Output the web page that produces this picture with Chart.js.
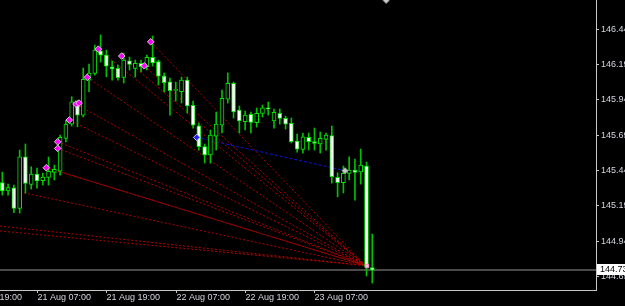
<!DOCTYPE html>
<html><head><meta charset="utf-8">
<script src="https://cdn.jsdelivr.net/npm/chart.js@4.4.0/dist/chart.umd.min.js"></script>
<style>html,body{margin:0;padding:0;background:#000;overflow:hidden}#wrap{width:625px;height:306px;position:relative}canvas{background:#000}</style>
</head><body><div id="wrap"><canvas id="c" width="625" height="306"></canvas></div>
<script>
// Bar times: hours relative to 21 Aug 07:00 (H1 candles)
const barHours = [-6,-5,-4,-3,-2,-1,0,1,2,3,4,5,6,7,8,9,10,11,12,13,14,15,16,17,18,19,20,21,22,23,24,25,26,27,28,29,30,31,32,33,34,35,36,37,38,39,40,41,42,43,44,45,46,47,48,49,50,51,52,53,54,55,56,57,58];
const opens  = [145.355,145.295,145.318,145.172,145.538,145.341,145.415,145.368,145.392,145.427,145.436,145.668,145.769,145.927,145.833,146.081,146.128,146.288,146.258,146.175,146.164,146.100,146.218,146.164,146.199,146.175,146.242,146.211,146.109,146.069,146.008,145.998,146.081,145.902,145.757,145.609,145.550,145.684,145.762,145.946,146.058,145.868,145.786,145.838,145.779,145.845,145.881,145.791,145.845,145.810,145.774,145.649,145.590,145.675,145.645,145.629,145.661,145.688,145.392,145.354,145.420,145.444,145.431,145.472,144.753];
const highs  = [145.429,145.344,145.337,145.585,145.628,145.467,145.458,145.422,145.536,145.479,145.691,145.798,145.963,145.939,146.166,146.194,146.329,146.400,146.293,146.215,146.187,146.272,146.244,146.223,146.223,146.258,146.393,146.223,146.131,146.095,146.067,146.102,146.102,145.932,145.776,145.628,145.727,145.854,146.010,146.131,146.067,145.897,145.861,145.854,145.883,145.904,145.925,145.876,145.876,145.826,145.812,145.698,145.706,145.706,145.741,145.713,145.706,145.755,145.424,145.472,145.538,145.521,145.592,145.500,144.990];
const lows   = [145.266,145.266,145.141,145.139,145.281,145.309,145.316,145.337,145.337,145.373,145.408,145.642,145.755,145.750,145.819,145.998,146.116,146.208,146.104,146.081,146.081,146.060,146.152,146.102,146.138,146.152,146.180,146.046,145.996,145.833,145.932,145.918,145.847,145.741,145.585,145.493,145.493,145.585,145.706,145.918,145.812,145.706,145.727,145.706,145.748,145.819,145.833,145.741,145.769,145.734,145.635,145.571,145.564,145.585,145.585,145.564,145.585,145.351,145.254,145.281,145.373,145.231,145.344,144.693,144.643];
const closes = [145.295,145.320,145.172,145.538,145.349,145.415,145.366,145.394,145.435,145.448,145.675,145.769,145.927,145.833,146.086,146.131,146.293,146.258,146.180,146.159,146.097,146.223,146.192,146.199,146.175,146.242,146.203,146.109,146.062,146.005,146.015,146.081,145.897,145.762,145.609,145.550,145.691,145.769,145.951,146.058,145.856,145.791,145.833,145.781,145.845,145.885,145.878,145.852,145.810,145.769,145.644,145.592,145.679,145.644,145.633,145.668,145.691,145.396,145.354,145.420,145.444,145.427,145.479,144.759,144.735];

// Price axis
const yTicks = [146.440,146.190,145.940,145.690,145.440,145.190,144.940,144.690];
const yMin = 144.594, yMax = 146.648;
const currentPrice = 144.735;

// Time axis (hours relative to 21 Aug 07:00)
const xMin = -6.4, xMax = 96.7;
const xTickHours  = [-12, 0, 12, 24, 36, 48];
const xTickLabels = ['20 Aug 19:00','21 Aug 07:00','21 Aug 19:00','22 Aug 07:00','22 Aug 19:00','23 Aug 07:00'];

// Magenta markers (fan origins)
const markHours  = [1.61, 3.58, 3.58, 5.59, 6.75, 7.27, 8.70, 10.61, 14.65, 18.56, 19.67];
const markPrices = [145.460,145.644,145.597,145.798,145.911,145.918,146.100,146.300,146.251,146.182,146.352];

// Red fan lines: start points, all converging to one point
const fanStartHours  = [-6.4, -6.4, -2.94, 3.98, 1.61, 3.58, 3.58, 5.59, 6.75, 8.70, 10.61, 14.65, 18.56, 19.67];
const fanStartPrices = [145.047,145.012,145.288,145.432,145.460,145.644,145.597,145.798,145.911,146.100,146.300,146.251,146.182,146.352];
const fanEndHour = 56.83, fanEndPrice = 144.767;

// Blue dotted line
const blueHours  = [27.63, 53.29];
const bluePrices = [145.675, 145.439];

// Other markers
const greyHours = [53.29, 60.4], greyPrices = [145.439, 146.645];
const pinkHours = [57.09], pinkPrices = [144.764];

const FONT = 'Liberation Sans';
const TXT = '#d2d6de';
const AXIS = '#c8c8c8';

const wickData = barHours.map((h,i)=>({x:h, y:[lows[i], highs[i]]}));
const bodyData = barHours.map((h,i)=>({x:h, y:[opens[i], closes[i]]}));

const datasets = [];
datasets.push({type:'bar', data: bodyData, grouped:false, barThickness:4, minBarLength:1,
  borderWidth:1, borderSkipped:false, borderColor:'#00e600',
  backgroundColor: ctx => (closes[ctx.dataIndex] < opens[ctx.dataIndex]) ? '#ffffff' : '#000000',
  order:4});
datasets.push({type:'bar', data: wickData, grouped:false, barThickness:1, borderWidth:0,
  backgroundColor:'#00c000', order:5});
fanStartHours.forEach((h,i)=>{
  datasets.push({type:'line', data:[{x:h,y:fanStartPrices[i]},{x:fanEndHour,y:fanEndPrice}],
    borderColor:'#b00000', borderWidth:1, borderDash:[2,2], pointRadius:0, order:7});
});
datasets.push({type:'line', data: blueHours.map((h,i)=>({x:h,y:bluePrices[i]})),
  borderColor:'#1010e0', borderWidth:1, borderDash:[3,2], pointRadius:0, order:6});
datasets.push({type:'scatter', data: markHours.map((h,i)=>({x:h,y:markPrices[i]})),
  pointStyle:'rectRot', pointRadius:3.3, backgroundColor:'#ff00ff', borderColor:'#d9c4d9', borderWidth:1, order:1});
datasets.push({type:'scatter', data: [{x:blueHours[0], y:bluePrices[0]}],
  pointStyle:'rectRot', pointRadius:3.3, backgroundColor:'#2020ff', borderColor:'#c8c8e8', borderWidth:1, order:1});
datasets.push({type:'scatter', data: greyHours.map((h,i)=>({x:h,y:greyPrices[i]})),
  pointStyle:'rectRot', pointRadius:3, backgroundColor:'#c8c8c8', borderColor:'#9a9a9a', borderWidth:1, order:1});
datasets.push({type:'scatter', data: pinkHours.map((h,i)=>({x:h,y:pinkPrices[i]})),
  pointStyle:'rect', pointRadius:2.5, backgroundColor:'#ffc0ec', borderColor:'#ff80d8', borderWidth:1, order:1});

const overlay = {
  id:'mt4overlay',
  beforeDatasetsDraw(chart){
    const {ctx, chartArea:a, scales:{y}} = chart;
    const py = Math.round(y.getPixelForValue(currentPrice));
    ctx.save();
    ctx.fillStyle = '#4a4a4a';
    ctx.fillRect(a.left, py - 1, a.right - a.left, 2);
    ctx.restore();
  },
  afterDraw(chart){
    const {ctx, chartArea:a, scales:{x,y}} = chart;
    ctx.save();
    ctx.font = '9px "' + FONT + '"';
    ctx.textBaseline = 'middle';
    ctx.textAlign = 'left';
    xTickHours.forEach((h,i)=>{
      const px = Math.round(x.getPixelForValue(h)) + 0.5;
      ctx.strokeStyle = AXIS; ctx.lineWidth = 1;
      ctx.beginPath(); ctx.moveTo(px, a.bottom); ctx.lineTo(px, a.bottom + 3); ctx.stroke();
      ctx.fillStyle = TXT;
      ctx.fillText(xTickLabels[i], px, 298);
    });
    // current price box
    const py = y.getPixelForValue(currentPrice);
    ctx.fillStyle = '#ffffff';
    ctx.fillRect(a.right + 1, Math.round(py) - 6, 40, 11);
    ctx.fillStyle = '#000000';
    ctx.fillText(currentPrice.toFixed(3), a.right + 4, Math.round(py));
    ctx.restore();
  }
};

new Chart(document.getElementById('c'), {
  data: { datasets },
  options: {
    responsive:false, animation:false, devicePixelRatio:1,
    layout:{padding:0, autoPadding:false},
    plugins:{legend:{display:false}, tooltip:{enabled:false}},
    scales:{
      x:{ type:'linear', min:xMin, max:xMax, position:'bottom', offset:false,
        ticks:{display:false}, grid:{display:false, drawTicks:false, offset:false},
        border:{display:true, color:AXIS, width:1},
        afterFit(s){ s.height = 16; s.paddingLeft = 0; s.paddingRight = 0; } },
      y:{ type:'linear', position:'right', min:yMin, max:yMax,
        afterBuildTicks(s){ s.ticks = yTicks.map(v=>({value:v})); },
        ticks:{ color:TXT, font:{family:FONT, size:9}, padding:2, autoSkip:false,
          callback:v=>Number(v).toFixed(3) },
        grid:{ display:true, drawOnChartArea:false, drawTicks:true, tickLength:3, color:AXIS },
        border:{display:true, color:AXIS, width:1},
        afterFit(s){ s.width = 29; s.paddingTop = 0; s.paddingBottom = 0; } }
    }
  },
  plugins:[overlay]
});
</script>
</body></html>
